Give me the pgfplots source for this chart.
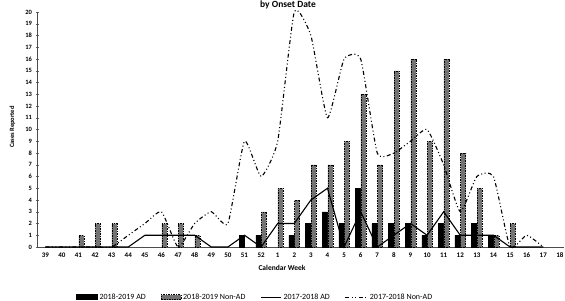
\documentclass[border=0pt]{standalone}
\usepackage{fontspec}
\setmainfont{Carlito}
\usepackage{pgfplots}
\pgfplotsset{compat=1.18}
\begin{document}
\begin{tikzpicture}[x=1pt,y=1pt]
\path[use as bounding box] (0,0) rectangle (565,300);
\node[anchor=north,inner sep=0.5pt,font=\fontsize{9.5}{10}\selectfont\bfseries] at (288,300) {by Onset Date};
\begin{axis}[
  at={(37pt,53pt)}, anchor=south west,
  scale only axis, width=527pt, height=235pt,
  xmin=-0.5, xmax=31.25, ymin=0, ymax=20,
  clip=false,
  axis lines=left,
  axis line style={black!70, -},
  xtick={0,...,31},
  xticklabels={39,40,41,42,43,44,45,46,47,48,49,50,51,52,1,2,3,4,5,6,7,8,9,10,11,12,13,14,15,16,17,18},
  ytick={0,...,20},
  tick style={black!60},
  xtick style={draw=none},
  major tick length=3pt,
  y tick label style={font=\fontsize{6.5}{7}\selectfont\bfseries},
  x tick label style={font=\fontsize{7}{8}\selectfont\bfseries, yshift=-1pt},
  /pgf/number format/assume math mode=true,
  yticklabel={\pgfmathprintnumber[assume math mode=true]{\tick}},
  ylabel={Cases Reported},
  ylabel style={font=\fontsize{6.5}{7}\selectfont\bfseries, at={(axis description cs:-0.047,0.51)}, anchor=center},
  xlabel={Calendar Week},
  xlabel style={font=\fontsize{7.5}{8}\selectfont\bfseries, at={(axis description cs:0.465,-0.09)}, anchor=center},
  legend style={draw=none, fill=none, font=\fontsize{8}{9}\selectfont, at={(axis description cs:0.414,-0.213)}, anchor=center, legend columns=4, /tikz/every even column/.append style={column sep=13pt}, inner sep=0pt, row sep=0pt},
  legend cell align=left,
]
\addplot[ybar, bar width=5pt, bar shift=-2.8pt, fill=black, draw=black,
  legend image code/.code={\fill[black] (0pt,-2.5pt) rectangle (21pt,2.5pt);}]
  coordinates {(12,1)(13,1)(15,1)(16,2)(17,3)(18,2)(19,5)(20,2)(21,2)(22,2)(23,1)(24,2)(25,1)(26,2)(27,1)};
\addlegendentry{2018-2019 AD}
\addplot[ybar, bar width=5pt, bar shift=2.8pt, fill=black!55, draw=black, line width=0.35pt, dash pattern=on 1.5pt off 1pt,
  legend image code/.code={\draw[fill=black!55, draw=black, line width=0.35pt, dash pattern=on 1.5pt off 1pt] (0pt,-2.5pt) rectangle (20pt,2.5pt);}]
  coordinates {(2,1)(3,2)(4,2)(7,2)(8,2)(9,1)(13,3)(14,5)(15,4)(16,7)(17,7)(18,9)(19,13)(20,7)(21,15)(22,16)(23,9)(24,16)(25,8)(26,5)(27,1)(28,2)};
\addlegendentry{2018-2019 Non-AD}
\addplot[black, line width=1.1pt, mark=none,
  legend image code/.code={\draw[black, line width=1.1pt] (0pt,0pt) -- (20pt,0pt);}]
  coordinates {(0,0)(1,0)(2,0)(3,0)(4,0)(5,0)(6,1)(7,1)(8,1)(9,1)(10,0)(11,0)(12,1)(13,0)(14,2)(15,2)(16,4)(17,5)(18,0)(19,3)(20,0)(21,1)(22,2)(23,1)(24,3)(25,1)(26,1)(27,1)(28,0)(29,0)(30,0)};
\addlegendentry{2017-2018 AD}
\addplot[black, line width=1.1pt, mark=none, smooth, tension=0.3, dash pattern=on 4pt off 2.5pt on 1pt off 2.5pt on 1pt off 2.5pt,
  legend image code/.code={\draw[black, line width=1.1pt, dash pattern=on 4pt off 2.5pt on 1pt off 2.5pt on 1pt off 2.5pt] (0pt,0pt) -- (22pt,0pt);}]
  coordinates {(0,0)(1,0)(2,0)(3,0)(4,0)(5,1)(6,2)(7,3)(8,0)(9,2)(10,3)(11,2)(12,9)(13,6)(14,9)(15,20)(16,18)(17,11)(18,16)(19,16)(20,8)(21,8)(22,9)(23,10)(24,7)(25,3)(26,6)(27,6)(28,0)(29,1)(30,0)};
\addlegendentry{2017-2018 Non-AD}
\end{axis}
\end{tikzpicture}
\end{document}
